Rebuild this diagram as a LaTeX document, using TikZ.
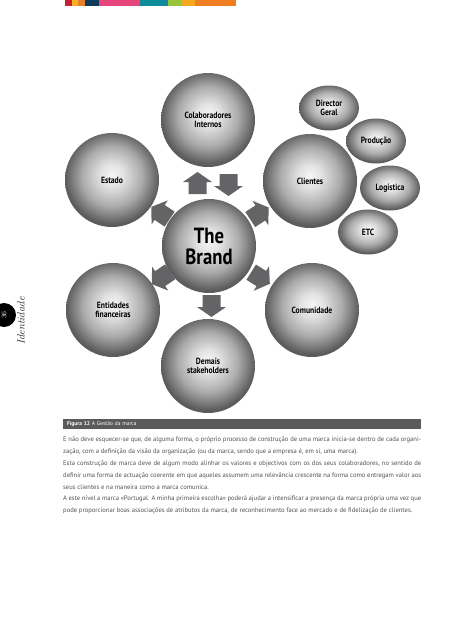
\documentclass[tikz,border=0pt]{standalone}
\usepackage{fontspec}
\newfontfamily\bodyfont{PT Sans}
\newfontfamily\labelfont[FakeStretch=0.85]{PT Sans}
\usetikzlibrary{shapes.geometric,calc}

\definecolor{barred}{HTML}{C8202F}
\definecolor{baryellow}{HTML}{F5B324}
\definecolor{barorange}{HTML}{E97F2C}
\definecolor{barnavy}{HTML}{0F3A5A}
\definecolor{barpink}{HTML}{E5457A}
\definecolor{barteal}{HTML}{0E8C9C}
\definecolor{bargreen}{HTML}{9AC43C}
\definecolor{bargold}{HTML}{F5A91F}
\definecolor{barorange2}{HTML}{EF7F22}
\definecolor{captiongrey}{HTML}{5A5A5C}
\definecolor{bodygrey}{HTML}{505153}
\definecolor{arrowgrey}{HTML}{646466}

\pgfdeclareradialshading{greyball}{\pgfpoint{0bp}{3bp}}{color(0bp)=(black!4); color(6bp)=(black!11); color(16bp)=(black!33); color(25bp)=(black!64); color(50bp)=(black!64)}

\tikzset{
  ball/.style={circle, minimum size=94pt, inner sep=0pt, shading=greyball, align=center,
    font=\labelfont\bfseries\fontsize{9}{8.5}\selectfont},
  smallball/.style={ellipse, minimum width=60pt, minimum height=45pt, inner sep=0pt,
    shading=greyball, align=center, font=\labelfont\bfseries\fontsize{9}{8.5}\selectfont},
  blockarrow/.pic={
    \fill[arrowgrey] (-11,-9) -- (1,-9) -- (1,-14.5) -- (11,0) -- (1,14.5) -- (1,9) -- (-11,9) -- cycle;
  }
}

\begin{document}
\begin{tikzpicture}[x=1pt,y=-1pt]
\useasboundingbox (0,0) rectangle (453,640);

% colour strip
\fill[barred] (65,0) rectangle (72,6);
\fill[baryellow] (72,0) rectangle (78,6);
\fill[barorange] (78,0) rectangle (85,6);
\fill[barnavy] (85,0) rectangle (99,6);
\fill[barpink] (99,0) rectangle (140,6);
\fill[barteal] (140,0) rectangle (168,6);
\fill[bargreen] (168,0) rectangle (182,6);
\fill[bargold] (182,0) rectangle (195,6);
\fill[barorange2] (195,0) rectangle (236,6);

% balls
\node[ball, font=\labelfont\bfseries\fontsize{22}{21}\selectfont] (brand) at (209,246) {The\\Brand};
\node[ball] (colab) at (208,120) {Colaboradores\\Internos};
\node[ball] (estado) at (112,180) {Estado};
\node[ball] (clientes) at (310,181) {Clientes};
\node[ball] (entidades) at (113,310) {Entidades\\financeiras};
\node[ball] (comunidade) at (312,310) {Comunidade};
\node[ball] (demais) at (208,366) {Demais\\stakeholders};

\node[smallball] (director) at (329,108) {Director\\Geral};
\node[smallball] (producao) at (376,141) {Produção};
\node[smallball] (logistica) at (390,188) {Logística};
\node[smallball] (etc) at (368,232) {ETC};

% arrows
\pic[rotate=90] (tocolab) at ($(brand.north)!0.5!(colab.south)+(-11,0)$) {blockarrow};
\pic[rotate=-90] (fromcolab) at ($(brand.north)!0.5!(colab.south)+(20,2)$) {blockarrow};
\pic[rotate=146] (toestado) at ($(brand)!0.5!(estado)$) {blockarrow};
\pic[rotate=33] (toclientes) at ($(brand)!0.5!(clientes)$) {blockarrow};
\pic[rotate=214] (toentidades) at ($(brand)!0.5!(entidades)$) {blockarrow};
\pic[rotate=-32] (tocomunidade) at ($(brand)!0.5!(comunidade)$) {blockarrow};
\pic[rotate=-90] (todemais) at ($(brand.south)!0.5!(demais.north)+(3,0)$) {blockarrow};

% caption
\node[anchor=north west, fill=captiongrey, text=white, minimum height=10pt, text width=350pt,
  inner xsep=4pt, inner ysep=0pt, align=left, font=\bodyfont\fontsize{5.5}{6}\selectfont]
  (caption) at (63,419) {\textbf{Figura 12} A Gestão da marca};

% text
\node[anchor=north west, text width=358pt, inner sep=0pt, align=justify, text=bodygrey,
  font=\bodyfont\fontsize{6.6}{11.8}\selectfont] (body) at (63,437) {\setlength{\parindent}{0pt}%
E não deve esquecer-se que, de alguma forma, o próprio processo de construção de uma marca inicia-se dentro de cada organi-\linebreak
zação, com a definição da visão da organização (ou da marca, sendo que a empresa é, em si, uma marca).\par
Esta construção de marca deve de algum modo alinhar os valores e objectivos com os dos seus colaboradores, no sentido de\linebreak
definir uma forma de actuação coerente em que aqueles assumem uma relevância crescente na forma como entregam valor aos\linebreak
seus clientes e na maneira como a marca comunica.\par
A este nível a marca «Portugal. A minha primeira escolha» poderá ajudar a intensificar a presença da marca própria uma vez que\linebreak
pode proporcionar boas associações de atributos da marca, de reconhecimento face ao mercado e de fidelização de clientes.};

% page number and running title
\node[circle, fill=black, minimum size=24pt, inner sep=0pt, text=white, rotate=90,
  font=\fontsize{7}{7}\selectfont] (pagenum) at (4,315) {36};
\node[rotate=90, text=black!85, font=\itshape\fontsize{10.5}{10.5}\selectfont] (runtitle) at (21,321) {Identidade};
\end{tikzpicture}
\end{document}
